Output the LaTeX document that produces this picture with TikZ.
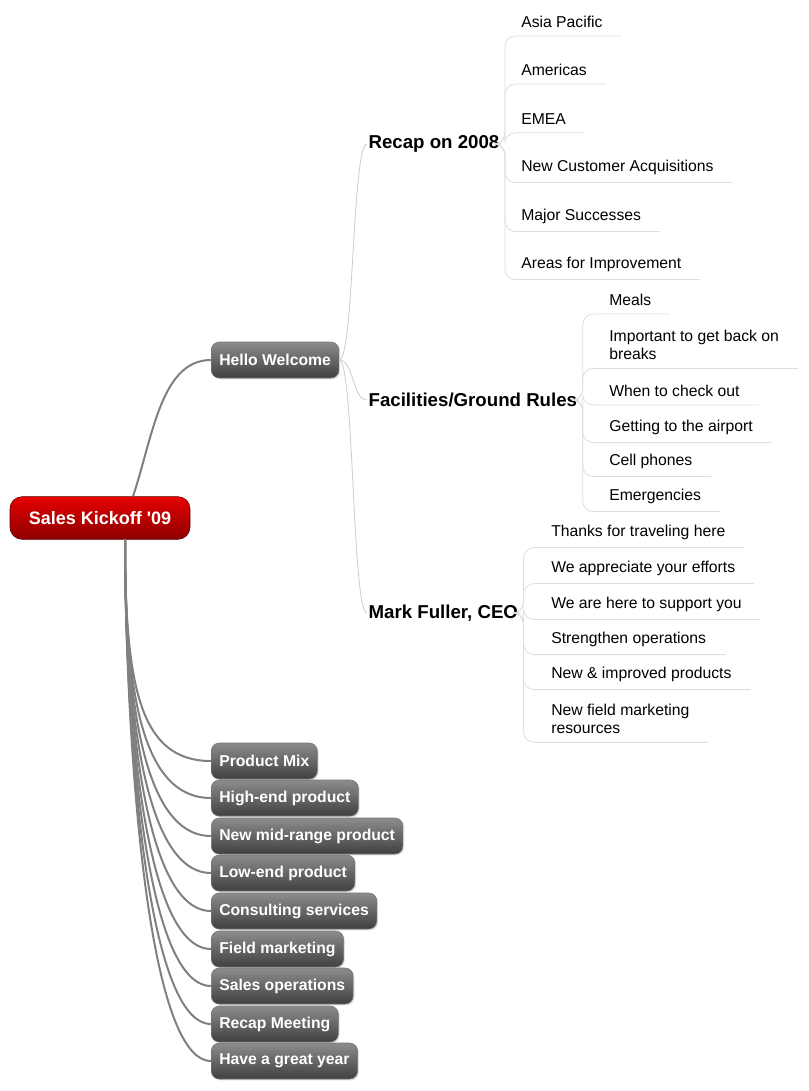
\documentclass[tikz,border=0pt]{standalone}
\usepackage{fontspec}
\setmainfont{Liberation Sans}
\usetikzlibrary{positioning,shadows}

\tikzset{
    rootbox/.style={rounded corners=9pt, draw=red!40!black, top color=red!90!black, bottom color=red!55!black,
        text=white, font=\bfseries\fontsize{13.5}{15}\selectfont, minimum width=135pt, minimum height=32pt},
    greybox/.style={rounded corners=6pt, draw=black!55, top color=black!45, bottom color=black!75,
        drop shadow={opacity=.25, shadow xshift=1pt, shadow yshift=-1pt},
        text=white, font=\bfseries\fontsize{11.8}{13}\selectfont, minimum height=27pt, inner xsep=6pt, anchor=west},
    topic/.style={font=\bfseries\fontsize{14}{16}\selectfont, anchor=west, inner sep=1pt},
    leaf/.style={font=\fontsize{11.8}{14}\selectfont, anchor=west, align=left, inner xsep=0pt, inner ysep=6pt},
    leafline/.style={draw=black!13, line width=.6pt, rounded corners=8pt},
    twig/.style={draw=black!20, line width=.6pt},
    branch/.style={draw=black!50, line width=1.5pt},
}

\begin{document}
\begin{tikzpicture}[x=0.75pt, y=-0.75pt]
\useasboundingbox (0,0) rectangle (809,1091);

% centre and first level
\node [rootbox] (root) at (100,518) {Sales Kickoff \textquotesingle09};
\node [greybox] (hello) at (211,360) {Hello Welcome};

% second level
\node [topic] (recap) at (367,144) {Recap on 2008};
\node [topic] (rules) at (367,400) {Facilities/Ground Rules};
\node [topic] (ceo)   at (367,613) {Mark Fuller, CEO};

% leaves
\foreach \name/\y/\txt in {ap/22/Asia Pacific, am/70/Americas, em/119/EMEA,
    nca/167/New Customer Acquisitions, ms/216/Major Successes, afi/264/Areas for Improvement}
    \node [leaf] (\name) at (521,\y) {\txt};
\foreach \name/\y/\txt in {meals/300/Meals, back/345/{Important to get back on\\breaks}, check/391/When to check out,
    air/427/Getting to the airport, cell/461/Cell phones, emerg/496/Emergencies}
    \node [leaf] (\name) at (609,\y) {\txt};
\foreach \name/\y/\txt in {thx/532/Thanks for traveling here, eff/568/We appreciate your efforts,
    supp/604/We are here to support you, ops/639/Strengthen operations,
    prod/674/New \& improved products, fm/719/{New field marketing\\resources}}
    \node [leaf] (\name) at (551,\y) {\txt};

% lower branch
\foreach \name/\y/\txt in {mix/761/Product Mix, high/798/High-end product, mid/836/New mid-range product,
    low/873/Low-end product, cons/911/Consulting services, field/949/Field marketing,
    sales/986/Sales operations, meet/1024/Recap Meeting, great/1061/Have a great year}
{
    \node [greybox] (\name) at (211,\y) {\txt};
    \draw [branch] (root.south) ++(25,0) .. controls +(0,150) and +(-70,0) .. (\name.west);
}

% connectors
\draw [branch] (root.north) ++(33,0) .. controls +(20,-60) and +(-50,0) .. (hello.west);
\foreach \t in {recap,rules,ceo}
    \draw [twig] (hello.east) .. controls +(15,0) and +(-15,0) .. (\t.west);
\foreach \l in {ap,am,em,nca,ms,afi}
    \draw [leafline] (recap.east) -- ++(4,0) |- ([xshift=14pt]\l.south east);
\foreach \l in {meals,back,check,air,cell,emerg}
    \draw [leafline] (rules.east) -- ++(4,0) |- ([xshift=14pt]\l.south east);
\foreach \l in {thx,eff,supp,ops,prod,fm}
    \draw [leafline] (ceo.east) -- ++(4,0) |- ([xshift=14pt]\l.south east);
\end{tikzpicture}
\end{document}
